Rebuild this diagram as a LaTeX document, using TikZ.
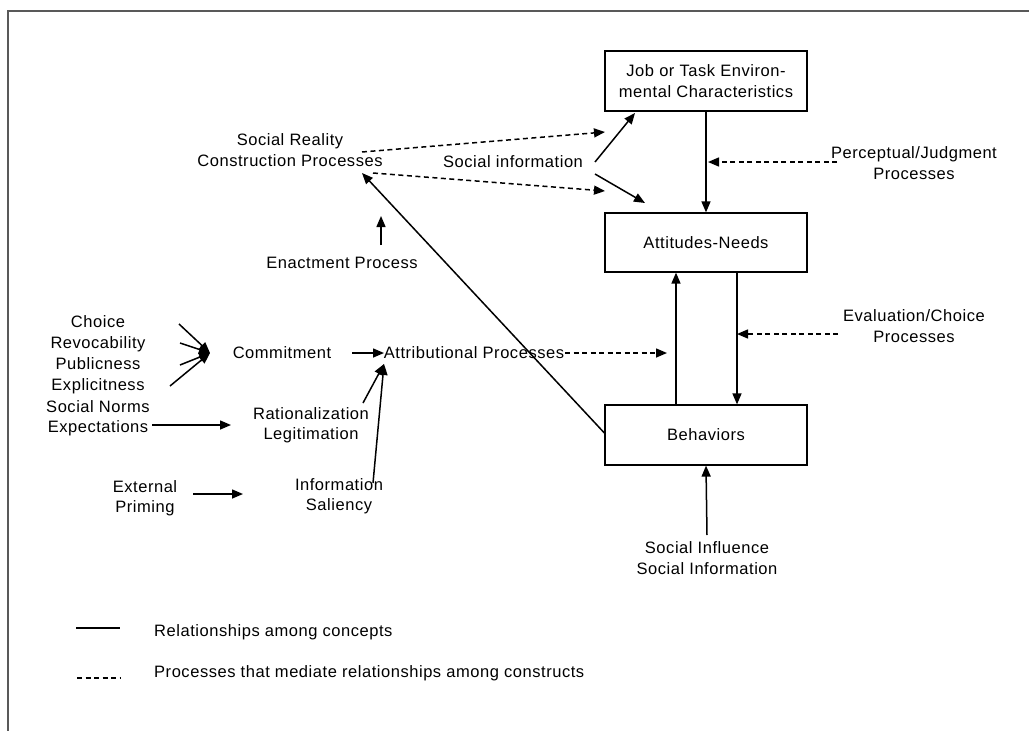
\documentclass[tikz,border=0pt]{standalone}
\usepackage{fontspec}
\setmainfont{Liberation Sans}[LetterSpace=3.3]
\usetikzlibrary{arrows.meta}
\begin{document}
\begin{tikzpicture}[x=1pt,y=-1pt,
  every node/.style={font=\fontsize{16.5}{20.5}\selectfont,inner sep=0pt,align=center},
  box/.style={draw,line width=1.2pt,minimum width=202pt,minimum height=60pt},
  rel/.style={line width=1.5pt,-{Triangle[length=11pt,width=9pt]}},
  med/.style={rel,dash pattern=on 5pt off 3.5pt},
  plain/.style={line width=1.5pt}]
\useasboundingbox (0,0) rectangle (1029,731);
\draw[line width=2pt,black!65] (8,731) -- (8,11) -- (1029,11);
% boxes
\node[box] (job) at (706,81) {Job or Task Environ-\\mental Characteristics};
\node[box,minimum height=59pt] (att) at (706,242.5) {Attitudes-Needs};
\node[box] (beh) at (706,435) {Behaviors};
% text nodes
\node (sr) at (290,150) {Social Reality\\Construction Processes};
\node (si) at (513,162) {Social information};
\node (en) at (342,263) {Enactment Process};
\node (pj) at (914,163) {Perceptual/Judgment\\Processes};
\node (ec) at (914,326) {Evaluation/Choice\\Processes};
\node (sisi) at (707,558) {Social Influence\\Social Information};
\node[font=\fontsize{16.5}{21}\selectfont] (cho) at (98,354.5) {Choice\\Revocability\\Publicness\\Explicitness};
\node (com) at (282,353) {Commitment};
\node (attr) at (474,353) {Attributional Processes};
\node (sn) at (98,418) {Social Norms\\Expectations};
\node (rl) at (311,425) {Rationalization\\Legitimation};
\node (ext) at (145,498) {External\\Priming};
\node (inf) at (339,496) {Information\\Saliency};
\node[anchor=west] (l1) at (154,632) {Relationships among concepts};
\node[anchor=west] (l2) at (154,673) {Processes that mediate relationships among constructs};
% coordinates
\coordinate (sra) at (362,152);
\coordinate (srb) at (373,173);
\coordinate (srt) at (362,173);
\coordinate (joba) at (605,132);
\coordinate (attb) at (605,191);
\coordinate (sia) at (595,162);
\coordinate (sib) at (595,174);
\coordinate (jobb) at (635,113);
\coordinate (atta) at (645,203);
\coordinate (pjs) at (837,162);
\coordinate (pje) at (708,162);
\coordinate (ecs) at (838,334);
\coordinate (ece) at (737,334);
\coordinate (sise) at (707,535);
\coordinate (ens) at (381,245);
\coordinate (ene) at (381,216);
\coordinate (hub) at (210,353);
\coordinate (c1) at (179,324);
\coordinate (c2) at (180,343);
\coordinate (c3) at (180,365);
\coordinate (c4) at (170,386);
\coordinate (coms) at (352,353);
\coordinate (attrw) at (384,353);
\coordinate (attrs) at (565,353);
\coordinate (attre) at (667,353);
\coordinate (sns) at (152,425);
\coordinate (sne) at (231,425);
\coordinate (rls) at (363,403);
\coordinate (attrb) at (384,364);
\coordinate (infs) at (373,483);
\coordinate (exs) at (193,494);
\coordinate (exe) at (243,494);
\coordinate (ls1) at (76,628);
\coordinate (le1) at (120,628);
\coordinate (ls2) at (77,678);
\coordinate (le2) at (120,678);
% connectors
\draw[med] (sra) -- (joba);
\draw[med] (srb) -- (attb);
\draw[rel] (sia) -- (jobb);
\draw[rel] (sib) -- (atta);
\draw[rel] (job.south) -- (att.north);
\draw[med] (pjs) -- (pje);
\draw[rel] (att.south -| ece) -- (beh.north -| ece);
\draw[rel] (beh.north -| 676,0) -- (att.south -| 676,0);
\draw[med] (ecs) -- (ece);
\draw[rel] (sise) -- (beh.south);
\draw[rel] (beh.west |- 0,433) -- (srt);
\draw[rel] (ens) -- (ene);
\foreach \c in {c1,c2,c3,c4} \draw[rel] (\c) -- (hub);
\draw[rel] (coms) -- (attrw);
\draw[med] (attrs) -- (attre);
\draw[rel] (sns) -- (sne);
\draw[rel] (rls) -- (attrb);
\draw[rel] (infs) -- (attrb);
\draw[rel] (exs) -- (exe);
\draw[line width=1.2pt] (ls1) -- (le1);
\draw[line width=1.2pt,dash pattern=on 5pt off 3.5pt] (ls2) -- (le2);
\end{tikzpicture}
\end{document}
